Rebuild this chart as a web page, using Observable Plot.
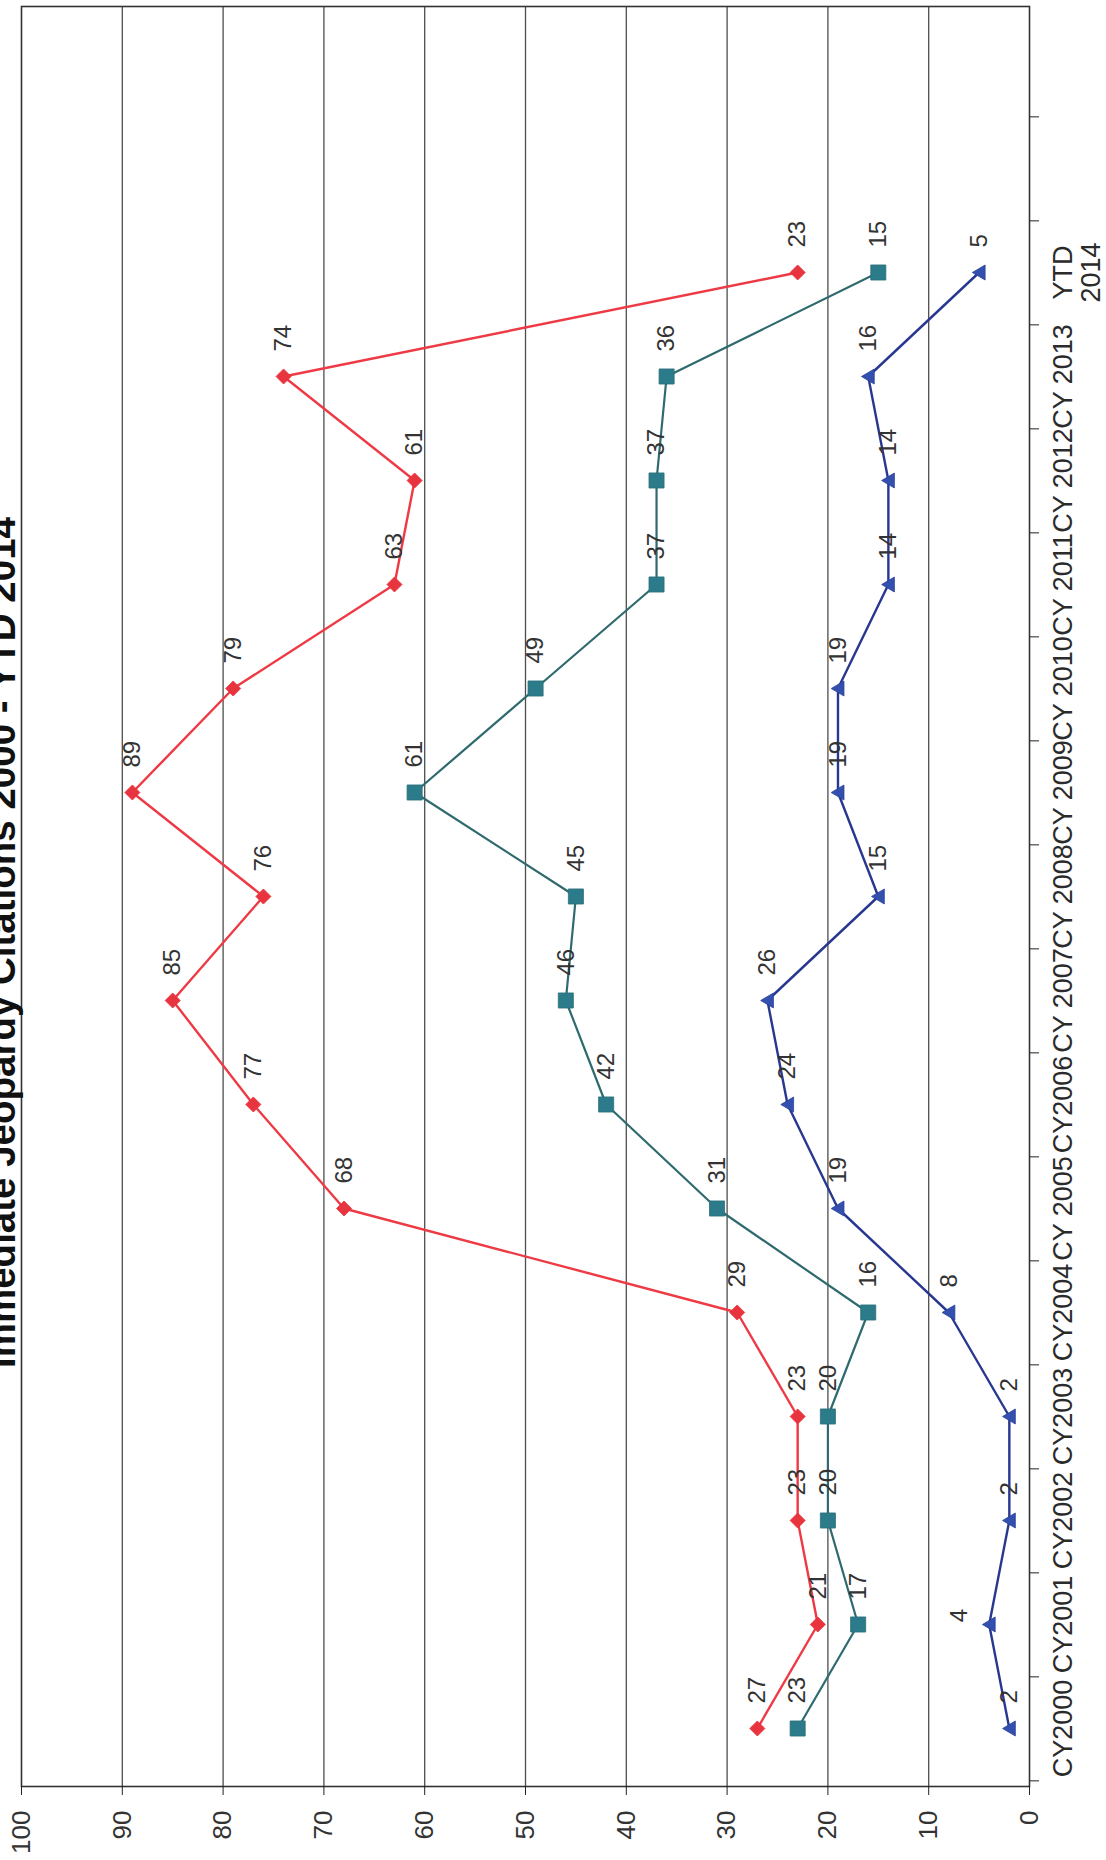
<!DOCTYPE html>
<html><head><meta charset="utf-8">
<script src="https://cdn.jsdelivr.net/npm/d3@7"></script>
<script src="https://cdn.jsdelivr.net/npm/@observablehq/plot@0.6"></script>
<style>
html,body{margin:0;padding:0;background:#fff;}
#chart svg{display:block;}
</style></head><body><div id="chart"></div>
<script>
const title = "Immediate Jeopardy Citations 2000 - YTD 2014";
const categories = ["CY2000","CY2001","CY2002","CY2003","CY2004","CY 2005","CY2006","CY 2007","CY 2008","CY 2009","CY 2010","CY 2011","CY 2012","CY 2013","YTD\n2014"];
const emptySlots = ["(empty 1)","(empty 2)"];
const diamondSeries = [27,21,23,23,29,68,77,85,76,89,79,63,61,74,23];
const squareSeries = [23,17,20,20,16,31,42,46,45,61,49,37,37,36,15];
const triangleSeries = [2,4,2,2,8,19,24,26,15,19,19,14,14,16,5];
const valueTicks = [0,10,20,30,40,50,60,70,80,90,100];
const gridValues = [10,20,30,40,50,60,70,80,90];

const toRows = (vals) => vals.map((v, i) => ({cat: categories[i], value: v, i}));
const red = toRows(diamondSeries), teal = toRows(squareSeries), blue = toRows(triangleSeries);

const W = 1106, H = 1860, mt = 6, mb = 74, ml = 21, mr = 77;
const slots = [...categories, ...emptySlots];
const step = (H - mt - mb) / slots.length;
const font = "Arial, 'Liberation Sans', sans-serif";

const triangleLeft = {draw(ctx, size) {
  const s = Math.sqrt(size / Math.PI);
  ctx.moveTo(-0.9 * s, 0); ctx.lineTo(0.8 * s, -s); ctx.lineTo(0.8 * s, s); ctx.closePath();
}};

const labelOpts = {x: "value", y: "cat", text: d => String(d.value), rotate: -90, textAnchor: "start",
  lineAnchor: "middle", dy: -25, fontSize: 24, fill: "#333"};

const chart = Plot.plot({
  width: W, height: H, marginTop: mt, marginBottom: mb, marginLeft: ml, marginRight: mr,
  style: {fontFamily: font, background: "#fff", color: "#222"},
  x: {domain: [100, 0], axis: null},
  y: {type: "point", domain: slots, padding: 0.5, reverse: true, axis: null},
  marks: [
    Plot.gridX(gridValues, {stroke: "#4d4d4d", strokeOpacity: 1, strokeWidth: 1.3}),
    Plot.frame({stroke: "#333", strokeWidth: 1.6}),
    Plot.axisX({anchor: "bottom", ticks: valueTicks, tickSize: 9, tickPadding: 15, tickRotate: -90,
      fontSize: 26, label: null, fill: "#333"}),
    Plot.axisY({anchor: "right", tickSize: 9, tickFormat: () => "", dy: step / 2, label: null}),
    Plot.text(categories, {y: d => d, text: d => d, frameAnchor: "right", dx: 22, rotate: -90,
      textAnchor: "middle", lineAnchor: "top", fontSize: 27, lineHeight: 1.05, fill: "#2b2b2b"}),
    Plot.line(teal, {x: "value", y: "cat", stroke: "#2e6a6e", strokeWidth: 2.2}),
    Plot.line(blue, {x: "value", y: "cat", stroke: "#28378f", strokeWidth: 2.4}),
    Plot.line(red, {x: "value", y: "cat", stroke: "#ee3a45", strokeWidth: 2.4}),
    Plot.dot(teal, {x: "value", y: "cat", symbol: "square", r: 8.5, fill: "#2b7b8a", stroke: "#2b6e7a", strokeWidth: 0.8}),
    Plot.dot(blue, {x: "value", y: "cat", symbol: triangleLeft, r: 7.5, fill: "#3350af", stroke: "#2b409a", strokeWidth: 0.8}),
    Plot.dot(red, {x: "value", y: "cat", symbol: "diamond2", r: 6.8, fill: "#e8343e", stroke: "#e8343e", strokeWidth: 0.8}),
    Plot.text(red, labelOpts),
    Plot.text(teal, labelOpts),
    Plot.text(blue.filter(d => d.i !== 1), labelOpts),
    Plot.text(blue.filter(d => d.i === 1), {...labelOpts, textAnchor: "middle", dx: -30, dy: -9}),
    Plot.text([title], {text: d => d, frameAnchor: "left", dx: -7, dy: 46, rotate: -90, textAnchor: "middle",
      lineAnchor: "bottom", fontSize: 38.5, fontWeight: "bold", fill: "#111"})
  ]
});
document.getElementById("chart").append(chart);
</script></body></html>
